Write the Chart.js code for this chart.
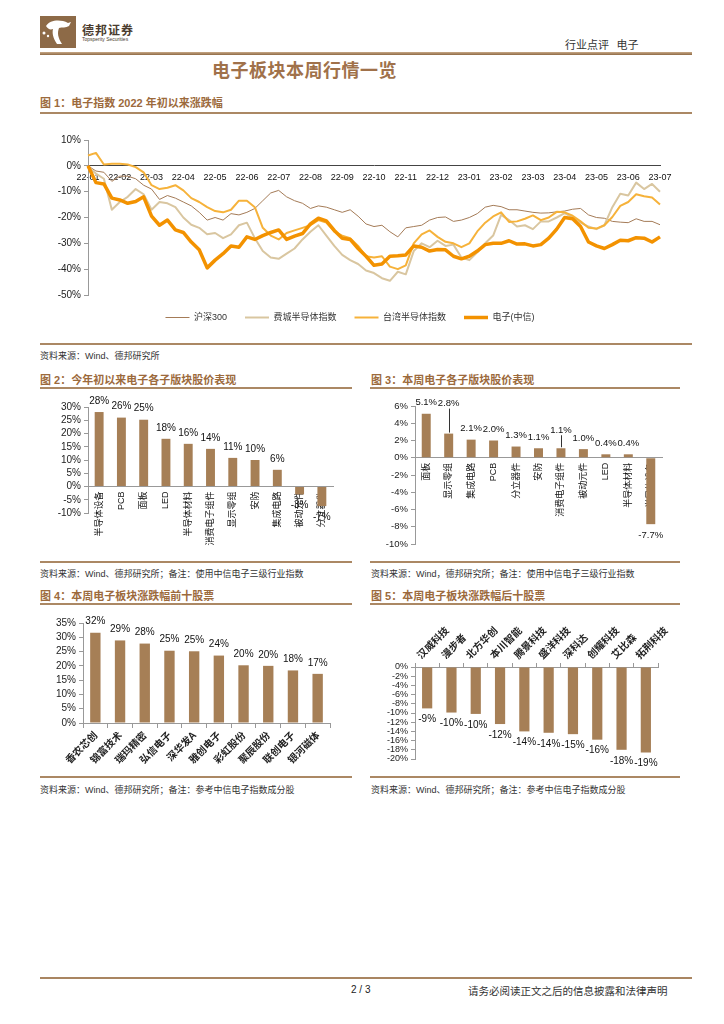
<!DOCTYPE html>
<html lang="zh-CN">
<head>
<meta charset="utf-8">
<title>电子板块本周行情一览</title>
<script src="https://cdn.jsdelivr.net/npm/chart.js@4.4.0/dist/chart.umd.min.js"></script>
<style>
  html, body { margin: 0; padding: 0; background: #fff; }
  body { width: 724px; height: 1024px; position: relative; overflow: hidden;
         font-family: "Liberation Sans", "Noto Sans CJK SC", sans-serif; color: #222; }
  .rule { position: absolute; height: 2px; background: #ab8864; }
  .figtitle { position: absolute; font-size: 11px; font-weight: bold; color: #9c6a3c; white-space: nowrap;
              font-family: "Liberation Sans", "Noto Sans CJK SC", sans-serif; }
  .src { position: absolute; font-size: 9px; color: #333; white-space: nowrap; }
  canvas { position: absolute; }
</style>
</head>
<body>

<!-- 页眉 -->
<svg style="position:absolute;left:40px;top:16px" width="36" height="32" viewBox="0 0 36 32">
  <rect x="0" y="0" width="36" height="32" fill="#8d6a47"/>
  <path d="M6 10 C10 4, 20 3, 28 7 L31 6 L29 10 C26 12, 22 11, 19 12 C17 17, 18 22, 22 28 L17 28 C13 22, 12 17, 13 13 C10 14, 8 13, 6 10 Z" fill="#fff"/>
  <circle cx="4" cy="17" r="1.5" fill="#fff"/>
  <circle cx="8" cy="20" r="1.2" fill="#fff"/>
</svg>
<div style="position:absolute;left:82px;top:21px;font-size:12px;font-weight:bold;color:#4a3b2e;letter-spacing:1px;font-family:'Noto Sans CJK SC'">德邦证券</div>
<div style="position:absolute;left:82px;top:36px;font-size:5px;color:#4a3b2e;">Topsperity Securities</div>
<div style="position:absolute;left:565px;top:36px;font-size:11px;color:#333;white-space:nowrap;font-family:'Noto Sans CJK SC'">行业点评&nbsp;&nbsp;&nbsp;电子</div>
<div style="position:absolute;left:40px;top:52px;width:652px;height:3px;background:linear-gradient(#c8a987,#8f6a45);"></div>

<div style="position:absolute;left:212px;top:56px;font-size:18px;font-weight:bold;color:#a0714a;letter-spacing:0.5px;font-family:'Noto Sans CJK SC'">电子板块本周行情一览</div>

<!-- 图1 -->
<div class="figtitle" style="left:40px;top:94px;">图 1：电子指数 2022 年初以来涨跌幅</div>
<div class="rule" style="left:40px;top:112px;width:652px;"></div>
<canvas id="c1" width="640" height="201" style="left:40px;top:131px;"></canvas>
<div class="rule" style="left:40px;top:343px;width:652px;"></div>
<div class="src" style="left:40px;top:349px;">资料来源：Wind、德邦研究所</div>

<!-- 图2 / 图3 -->
<div class="figtitle" style="left:40px;top:371px;">图 2：今年初以来电子各子版块股价表现</div>
<div class="rule" style="left:40px;top:387px;width:312px;"></div>
<canvas id="c2" width="305" height="160" style="left:40px;top:391px;"></canvas>
<div class="rule" style="left:40px;top:561px;width:312px;"></div>
<div class="src" style="left:40px;top:567px;">资料来源：Wind、德邦研究所；备注：使用中信电子三级行业指数</div>

<div class="figtitle" style="left:371px;top:371px;">图 3：本周电子各子版块股价表现</div>
<div class="rule" style="left:370px;top:387px;width:310px;"></div>
<canvas id="c3" width="309" height="165" style="left:365px;top:390px;"></canvas>
<div class="rule" style="left:370px;top:561px;width:310px;"></div>
<div class="src" style="left:371px;top:567px;">资料来源：Wind，德邦研究所；备注：使用中信电子三级行业指数</div>

<!-- 图4 / 图5 -->
<div class="figtitle" style="left:40px;top:587px;">图 4：本周电子板块涨跌幅前十股票</div>
<div class="rule" style="left:40px;top:603px;width:312px;"></div>
<canvas id="c4" width="305" height="159" style="left:40px;top:609px;"></canvas>
<div class="rule" style="left:40px;top:776px;width:312px;"></div>
<div class="src" style="left:40px;top:783px;">资料来源：Wind、德邦研究所；备注：参考中信电子指数成分股</div>

<div class="figtitle" style="left:371px;top:587px;">图 5：本周电子板块涨跌幅后十股票</div>
<div class="rule" style="left:370px;top:603px;width:310px;"></div>
<canvas id="c5" width="318" height="151" style="left:365px;top:620px;"></canvas>
<div class="rule" style="left:370px;top:776px;width:310px;"></div>
<div class="src" style="left:371px;top:783px;">资料来源：Wind、德邦研究所；备注：参考中信电子指数成分股</div>

<!-- 页脚 -->
<div style="position:absolute;left:40px;top:977px;width:652px;height:2px;background:#a98561;"></div>
<div style="position:absolute;left:351px;top:984px;font-size:10px;color:#222;">2 / 3</div>
<div style="position:absolute;left:468px;top:983px;font-size:10.5px;color:#333;white-space:nowrap;font-family:'Noto Sans CJK SC'">请务必阅读正文之后的信息披露和法律声明</div>

<script>
// 图1：电子指数 2022 年初以来涨跌幅（%），每月取 4 个点
const months = ["22-01", "22-02", "22-03", "22-04", "22-05", "22-06", "22-07", "22-08", "22-09", "22-10",
  "22-11", "22-12", "23-01", "23-02", "23-03", "23-04", "23-05", "23-06", "23-07"];

const hs300 = [0, -2, -2.5, -6, -4, -4, -5, -7.5, -9, -13, -11.5, -12.5, -14, -15.5, -18, -21, -20, -21, -18.5,
  -19, -18, -16.5, -13.5, -10.5, -9.5, -12, -13.5, -14.5, -16.5, -15.5, -16, -17, -18, -17, -19.5, -22.5,
  -23.5, -23, -25.5, -27.5, -24, -23.5, -23, -21, -20, -19.8, -21.5, -21, -20, -18.5, -16, -15.3, -15.8,
  -17, -17, -17.5, -18, -18.3, -18.2, -17.8, -17.5, -16.8, -16.5, -19, -20, -20.3, -21.5, -21.8, -22,
  -20.5, -21.5, -21.5, -22.8];

const soxIndex = [-0.5, -3, -5, -17, -14, -12, -9, -11, -17, -14, -14.5, -16, -20, -22.8, -24, -26.5, -26, -28,
  -26.5, -23, -22, -28, -33, -35.5, -36, -34, -32, -28.5, -25.5, -23, -27, -31, -34.5, -36.5, -38, -40.5,
  -41.5, -43.5, -44.5, -41, -42, -33, -30, -31.5, -29, -31, -30.5, -35.5, -36.5, -33.5, -30, -27, -19,
  -21, -23.5, -23, -24.5, -21.5, -21.5, -20, -18.3, -20, -22, -23.5, -24.5, -23, -16, -10.8, -11.5, -6.5,
  -9, -7, -10];

const twSemi = [4, 5, 0.5, 0.8, 0.8, 0.5, -0.5, -2.5, -7.5, -9, -8.5, -7.5, -9.5, -12.5, -14, -16, -17.5, -18,
  -17, -13.5, -13.5, -16, -24, -27, -28.5, -26, -25, -24, -23, -21, -22, -25.5, -27, -28, -31, -35, -35.5,
  -35, -39, -40, -38.5, -30, -26.5, -25, -27.5, -29.4, -30, -31.5, -30, -25.4, -22, -19.6, -18, -21.7,
  -21.5, -20.5, -19.2, -21, -20, -17.8, -18, -19.3, -21.5, -24, -24.3, -23, -19.8, -15.5, -14, -11,
  -11.8, -12.3, -15];

const elecCitic = [0, -6.5, -7, -12.5, -13.2, -14.5, -13.8, -12, -19.5, -23, -21, -24.8, -25.8, -29.5, -32.5,
  -39.5, -36.5, -34, -31, -31.5, -27.5, -28.5, -27, -25.8, -24.8, -28.5, -27.2, -26.2, -22.5, -20.3, -21.3,
  -25, -28, -28.5, -32, -35, -38.5, -38, -35, -34.8, -34.5, -31, -31.5, -33, -32.4, -32.5, -35, -36, -35,
  -33, -30.5, -30, -30, -29, -30.3, -30.2, -31, -30.5, -28, -24.5, -20, -20.5, -23.5, -29.5, -31, -32,
  -30.5, -28.8, -29, -27.8, -28, -29.5, -27.5];

// 图2：今年初以来各子版块涨跌幅（%）
const ytdSectors = ["半导体设备", "PCB", "面板", "LED", "半导体材料", "消费电子组件", "显示零组", "安防",
  "集成电路", "被动元件", "分立器件"];
const ytdChange = [28.1, 26.0, 25.2, 18.0, 16.1, 14.2, 10.8, 10.0, 6.3, -3.0, -7.4];

// 图3：本周各子版块涨跌幅（%）
const weekSectors = ["面板", "显示零组", "集成电路", "PCB", "分立器件", "安防", "消费电子组件", "被动元件",
  "LED", "半导体材料", "半导体设备"];
const weekChange = [5.1, 2.8, 2.1, 2.0, 1.3, 1.1, 1.1, 1.0, 0.4, 0.4, -7.7];

// 图4：本周涨幅前十
const topStocks = ["香农芯创", "锦富技术", "瑞玛精密", "弘信电子", "深华发A", "雅创电子", "彩虹股份",
  "聚辰股份", "联创电子", "银河磁体"];
const topChange = [31.6, 28.9, 27.8, 25.3, 25.1, 23.6, 20.2, 20.0, 18.4, 17.2];

// 图5：本周跌幅前十
const bottomStocks = ["汉威科技", "漫步者", "北方华创", "本川智能", "腾景科技", "盛洋科技", "深科达",
  "创耀科技", "艾比森", "拓荆科技"];
const bottomChange = [-9.0, -9.9, -10.2, -12.4, -14.0, -14.3, -14.6, -15.8, -18.0, -18.6];

const LATIN = '"Liberation Sans", "Noto Sans CJK SC", sans-serif';
const CJK = '"Noto Sans CJK SC", sans-serif';
const BAR = "#a67f56";
const AXIS = "#999";

Chart.defaults.font.family = LATIN;
Chart.defaults.color = "#222";

// 柱子上的数值标签（可选引线）
const barLabels = {
  id: "barLabels",
  afterDatasetsDraw(chart, args, opts) {
    const ctx = chart.ctx;
    const vals = chart.data.datasets[0].data;
    const lift = opts.lift || {};
    ctx.save();
    ctx.font = (opts.size || 10) + "px " + LATIN;
    ctx.fillStyle = "#111";
    ctx.textAlign = "center";
    ctx.textBaseline = "middle";
    chart.getDatasetMeta(0).data.forEach((bar, i) => {
      const v = vals[i];
      const txt = v.toFixed(opts.digits) + "%";
      if (v >= 0) {
        const up = lift[i] || 0;
        const y = bar.y - 11 - up;
        ctx.fillText(txt, bar.x, y);
        if (up) {
          ctx.strokeStyle = "#333";
          ctx.lineWidth = 1;
          ctx.beginPath();
          ctx.moveTo(Math.round(bar.x) + 0.5, y + 5);
          ctx.lineTo(Math.round(bar.x) + 0.5, bar.y - 1);
          ctx.stroke();
        }
      } else {
        ctx.fillText(txt, bar.x, bar.y + 11);
      }
    });
    ctx.restore();
  }
};

function yAxis(min, max, step, width, size) {
  return {
    min: min, max: max,
    ticks: { stepSize: step, autoSkip: false, padding: 3, font: { size: size || 10 }, color: "#222",
             callback: (v) => v + "%" },
    grid: { display: true, drawOnChartArea: false, tickLength: 4, color: AXIS },
    border: { color: AXIS },
    afterFit(s) { s.width = width; }
  };
}

function barChart(id, labels, values, cfg) {
  return new Chart(document.getElementById(id), {
    type: "bar",
    data: {
      labels: labels,
      datasets: [{ data: values, backgroundColor: BAR, barPercentage: cfg.barPct, categoryPercentage: 1 }]
    },
    options: {
      responsive: false,
      animation: false,
      layout: { padding: cfg.padding },
      plugins: {
        legend: { display: false },
        tooltip: { enabled: false },
        barLabels: { digits: cfg.digits, lift: cfg.lift, size: cfg.labelSize }
      },
      scales: { x: cfg.x, y: yAxis(cfg.min, cfg.max, cfg.step, cfg.yWidth, cfg.tickSize) }
    },
    plugins: [barLabels]
  });
}

// 图1 折线
const weekLabels = hs300.map((_, i) => months[Math.floor(i / 4)]);

new Chart(document.getElementById("c1"), {
  type: "line",
  data: {
    labels: weekLabels,
    datasets: [
      { label: "沪深300", data: hs300, borderColor: "#a47b57", borderWidth: 1, order: 3 },
      { label: "费城半导体指数", data: soxIndex, borderColor: "#d9c6a0", borderWidth: 2, order: 2 },
      { label: "台湾半导体指数", data: twSemi, borderColor: "#f6b23a", borderWidth: 2, order: 1 },
      { label: "电子(中信)", data: elecCitic, borderColor: "#f39200", borderWidth: 3.5, order: 0 }
    ]
  },
  options: {
    responsive: false,
    animation: false,
    layout: { padding: { top: 8, right: 20, bottom: 0, left: 0 } },
    elements: { point: { radius: 0 }, line: { tension: 0, borderJoinStyle: "round" } },
    plugins: {
      tooltip: { enabled: false },
      legend: {
        position: "bottom",
        labels: {
          usePointStyle: true, pointStyle: "line", pointStyleWidth: 24, padding: 18,
          font: { size: 9, family: LATIN }, color: "#333",
          sort: (a, b) => a.datasetIndex - b.datasetIndex
        }
      }
    },
    scales: {
      x: {
        position: { y: 0 },
        grid: { display: false, drawTicks: false },
        border: { color: "#444", width: 1 },
        ticks: {
          autoSkip: false, maxRotation: 0, minRotation: 0, padding: 6, font: { size: 9 }, color: "#111",
          callback: (v, i) => (i % 4 === 0 ? weekLabels[i] : "")
        }
      },
      y: yAxis(-50, 10, 10, 48)
    }
  }
});

// 图2
barChart("c2", ytdSectors, ytdChange, {
  min: -10, max: 30, step: 5, yWidth: 48, digits: 0, barPct: 0.4,
  padding: { top: 16, right: 12, bottom: 38, left: 0 },
  x: {
    position: { y: 0 },
    grid: { display: false, drawTicks: false },
    border: { color: AXIS },
    ticks: { autoSkip: false, minRotation: 90, maxRotation: 90, padding: 5, font: { size: 9, family: LATIN }, color: "#111" }
  }
});

// 图3
barChart("c3", weekSectors, weekChange, {
  min: -10, max: 6, step: 2, yWidth: 50, digits: 1, barPct: 0.4, labelSize: 9.5, tickSize: 9.5,
  lift: { 1: 19, 6: 7 },
  padding: { top: 16, right: 12, bottom: 11, left: 0 },
  x: {
    position: { y: 0 },
    grid: { display: false, drawTicks: false },
    border: { color: AXIS },
    ticks: { autoSkip: false, minRotation: 90, maxRotation: 90, padding: 5, font: { size: 9, family: LATIN }, color: "#111" }
  }
});

// 图4
barChart("c4", topStocks, topChange, {
  min: 0, max: 35, step: 5, yWidth: 43, digits: 0, barPct: 0.42,
  padding: { top: 14, right: 15, bottom: 45, left: 0 },
  x: {
    position: { y: 0 },
    grid: { display: true, drawOnChartArea: false, tickLength: 4, color: AXIS },
    border: { color: AXIS },
    ticks: { autoSkip: false, minRotation: 45, maxRotation: 45, padding: 2, font: { size: 10, family: CJK, weight: "bold" }, color: "#222" }
  }
});

// 图5
barChart("c5", bottomStocks, bottomChange, {
  min: -20, max: 0, step: 2, yWidth: 50, digits: 0, barPct: 0.42, tickSize: 9,
  padding: { top: 2, right: 25, bottom: 12, left: 0 },
  x: {
    position: "top",
    grid: { display: true, drawOnChartArea: false, tickLength: 4, color: AXIS },
    border: { color: AXIS },
    ticks: { autoSkip: false, minRotation: 45, maxRotation: 45, padding: 2, font: { size: 10, family: CJK, weight: "bold" }, color: "#222" },
    afterFit(s) { s.height = 45; }
  }
});
</script>
</body>
</html>
